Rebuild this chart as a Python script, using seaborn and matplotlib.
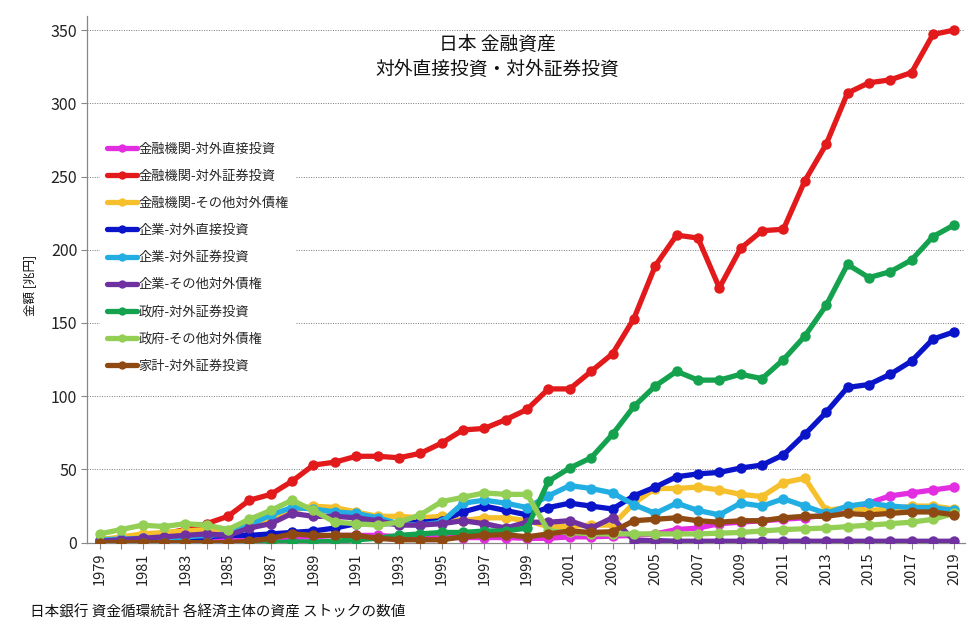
import numpy as np
import pandas as pd
import matplotlib
matplotlib.use("Agg")
import matplotlib.pyplot as plt
from matplotlib.lines import Line2D
from matplotlib.ticker import MultipleLocator
import seaborn as sns

years = list(range(1979, 2020))

fin_direct = [1, 1, 1, 1.5, 1.5, 2, 2, 2.5, 3, 3.5, 4, 5, 5, 5, 4, 4, 3.5, 3.5, 3.5, 3.5, 3,
              3, 4, 4, 4.5, 5, 6, 9, 10, 13, 14, 15, 16, 17, 19, 22, 27, 32, 34, 36, 38]
fin_securities = [2, 3, 4, 6, 9, 13, 18, 29, 33, 42, 53, 55, 59, 59, 58, 61, 68, 77, 78, 84, 91,
                  105, 105, 117, 129, 153, 189, 210, 208, 174, 201, 213, 214, 247, 272, 307, 314, 316, 321, 347, 350]
fin_other = [2, 4, 6, 7, 8, 9, 8, 12, 17, 22, 25, 24, 21, 18, 18, 17, 18, 15, 17, 17, 15,
             11, 11, 12, 12, 27, 37, 37, 38, 36, 33, 31.5, 41, 44, 22, 24, 22, 23, 25, 25, 23]
corp_direct = [1.5, 2, 2, 2.5, 3, 4, 5, 5, 6, 7, 8, 10, 13, 13, 13, 14, 15, 21, 25, 22, 19,
               24, 27, 25, 23, 32, 38, 45, 47, 48, 51, 53, 60, 74, 89, 106, 108, 115, 124, 139, 144]
corp_securities = [2, 2.5, 3, 3, 4, 5, 6, 12, 19, 24, 23, 21, 20, 17, 13, 12, 14, 27, 29, 27, 24,
                   32, 39, 37, 34, 26, 20, 27, 22, 19, 27, 25, 30, 25, 20, 25, 27, 25, 24, 24, 22]
corp_other = [1, 2, 3, 4, 5, 6, 5, 10, 13, 20, 18, 18, 17, 15, 12, 12, 13, 15, 13, 10, 14,
              14, 15, 10, 17, 1.5, 1.5, 1, 1, 1, 1, 1, 1, 1, 1, 1, 1, 1, 1, 1, 1]
gov_securities = [0, 0, 0, 0, 0, 0, 0, 0, 0, 0.5, 0.5, 1, 2, 3, 5, 6, 7, 7, 8, 8, 10,
                  42, 51, 58, 74, 93, 107, 117, 111, 111, 115, 112, 125, 141, 162, 190, 181, 185, 193, 209, 217]
gov_other = [6, 9, 12, 11, 13, 12, 9, 16, 22, 29, 22, 14, 13, 12, 14, 19, 28, 31, 34, 33, 33,
             8, 7, 6, 6, 6, 6, 6, 6, 6.5, 7, 8, 9, 9.5, 10, 11, 12, 13, 14, 16, 20]
household_securities = [0, 0, 0, 0, 0, 0, 0, 1, 3, 6, 5, 5, 5, 3, 2, 2, 2, 4, 5, 5.5, 4,
                        6, 8, 7, 7.5, 15, 16, 17, 15, 14, 15, 15, 17, 18, 18, 20, 19, 20, 21, 21, 19]

series_names = ["金融機関-対外直接投資", "金融機関-対外証券投資", "金融機関-その他対外債権",
                "企業-対外直接投資", "企業-対外証券投資", "企業-その他対外債権",
                "政府-対外証券投資", "政府-その他対外債権", "家計-対外証券投資"]
series_values = [fin_direct, fin_securities, fin_other, corp_direct, corp_securities,
                 corp_other, gov_securities, gov_other, household_securities]
colors = ["#E22DE0", "#E31A1C", "#F6C02C", "#0A14C8", "#23AEE3", "#7031A0",
          "#14A24E", "#93CF55", "#8E4A12"]

title_text = "日本 金融資産\n対外直接投資・対外証券投資"
ylabel_text = "金額 [兆円]"
source_text = "日本銀行 資金循環統計 各経済主体の資産 ストックの数値"

rows = []
for name, vals in zip(series_names, series_values):
    for y, v in zip(years, vals):
        rows.append({"year": y, "value": v, "series": name})
df = pd.DataFrame(rows)

sns.set_theme(style="white")
plt.rcParams['font.family'] = ['Noto Sans CJK JP', 'DejaVu Sans']

fig = plt.figure(figsize=(9.79, 6.41), dpi=100)
ax = fig.add_axes([87/979, (641-542.7)/641, 878/979, (542.7-16)/641])

palette = dict(zip(series_names, colors))
for i, name in enumerate(series_names):
    sub = df[df["series"] == name]
    sns.lineplot(data=sub, x="year", y="value", color=palette[name], ax=ax,
                 linewidth=3.8, marker="o", markersize=7.5, markeredgewidth=0,
                 legend=False, zorder=3 + i)

ax.set_xlim(1978.4, 2019.5)
ax.set_ylim(0, 359.6)
ax.xaxis.set_minor_locator(MultipleLocator(1))
ax.set_xticks(list(range(1979, 2020, 2)))
ax.set_xticklabels([str(y) for y in range(1979, 2020, 2)], rotation=90, fontsize=10.5, color="#222222")
ax.set_yticks(range(0, 351, 50))
ax.set_yticklabels([str(v) for v in range(0, 351, 50)], fontsize=11.5, color="#222222")
ax.tick_params(axis="x", which="both", direction="out", length=4, width=0.8, color="#888888", bottom=True, pad=3)
ax.tick_params(axis="y", which="major", direction="out", length=4, width=0.8, color="#888888", left=True, pad=3)
ax.set_xlabel("")
ax.set_ylabel("")
for s in ["top", "right"]:
    ax.spines[s].set_visible(False)
for s in ["left", "bottom"]:
    ax.spines[s].set_color("#888888")
    ax.spines[s].set_linewidth(0.9)

for v in range(50, 351, 50):
    ax.axhline(v, color="#777777", linestyle=(0, (1, 1.5)), linewidth=0.7, zorder=1)

ax.text(0.467, 0.922, title_text, transform=ax.transAxes, ha="center", va="center",
        fontsize=13.5, linespacing=1.3, color="#111111", zorder=20)

handles = [Line2D([0], [0], color=c, linewidth=3.8, marker="o", markersize=6, markeredgewidth=0)
           for c in colors]
leg = ax.legend(handles, series_names, loc="upper left", bbox_to_anchor=(0.015, 0.772),
                frameon=True, fontsize=9.5, handlelength=2.3, handletextpad=0.1,
                labelspacing=1.07, borderpad=0.5, borderaxespad=0)
leg.get_frame().set_facecolor("white")
leg.get_frame().set_edgecolor("none")
leg.get_frame().set_alpha(1)
leg.set_zorder(30)

fig.text(30/979, (641-285)/641, ylabel_text, rotation=90, ha="center", va="center", fontsize=9, color="#111111")
fig.text(30/979, (641-612)/641, source_text, ha="left", va="center", fontsize=10.5, color="#111111")

fig.savefig("out.png", dpi=100)
